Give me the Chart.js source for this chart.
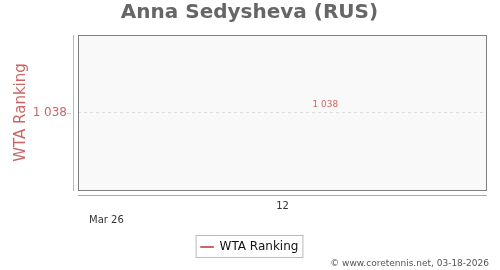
<!DOCTYPE html>
<html>
<head>
<meta charset="utf-8">
<script src="https://cdn.jsdelivr.net/npm/chart.js@4"></script>
<style>
  html, body { margin: 0; padding: 0; background: #fff; }
  #wrap { width: 500px; height: 270px; }
</style>
</head>
<body>
<div id="wrap"><canvas id="Chart"></canvas></div>
<script>
const weeks = [12.2];
const ranking = [1038];
const xTicks = [12];
const yTicks = [1038];
const monthLabel = "Mar 26";
const footer = "\u00A9 www.coretennis.net, 03-18-2026";

const red = "#cc6666";
const fmt = v => String(v).replace(/\B(?=(\d{3})+(?!\d))/g, " ");

// plot box, offset axis lines, value labels, legend frame, footer
const decor = {
  id: "decor",
  beforeDraw(chart) {
    const a = chart.chartArea, c = chart.ctx;
    c.save();
    c.fillStyle = "#f9f9f9";
    c.fillRect(a.left, a.top, a.right - a.left, a.bottom - a.top);
    c.restore();
  },
  afterDraw(chart) {
    const a = chart.chartArea, c = chart.ctx;
    c.save();
    c.strokeStyle = "#808080";
    c.lineWidth = 1;
    c.strokeRect(a.left + 0.5, a.top + 0.5, a.right - a.left - 1, a.bottom - a.top);
    // y axis line
    c.strokeStyle = "#e2a8a8";
    c.beginPath();
    c.moveTo(a.left - 4.5, a.top);
    c.lineTo(a.left - 4.5, a.bottom + 1);
    c.stroke();
    const ys = chart.scales.y;
    ys.ticks.forEach((t, i) => {
      const y = Math.round(ys.getPixelForTick(i)) + 0.5;
      c.strokeStyle = "#ccc";
      c.beginPath();
      c.moveTo(a.left - 11, y);
      c.lineTo(a.left - 7, y);
      c.stroke();
    });
    // x axis line
    c.strokeStyle = "#aaa";
    c.beginPath();
    c.moveTo(a.left, a.bottom + 5.5);
    c.lineTo(a.right, a.bottom + 5.5);
    c.stroke();
    // month label
    c.fillStyle = "#333";
    c.font = "10px 'DejaVu Sans'";
    c.textAlign = "left";
    c.textBaseline = "middle";
    c.fillText(monthLabel, a.left + 11, a.bottom + 30);
    // value labels
    const meta = chart.getDatasetMeta(0);
    c.fillStyle = red;
    c.font = "9px 'DejaVu Sans'";
    c.textAlign = "center";
    meta.data.forEach((p, i) => {
      c.fillText(fmt(chart.data.datasets[0].data[i].y), p.x + 2, p.y - 8);
    });
    // legend frame
    const hb = chart.legend.legendHitBoxes[0];
    if (hb) {
      c.strokeStyle = "#bbb";
      c.strokeRect(hb.left - 4.5, hb.top - 5.5, hb.width + 9, hb.height + 10);
    }
    // footer
    c.fillStyle = "#555";
    c.font = "9px 'DejaVu Sans'";
    c.textAlign = "right";
    c.fillText(footer, 489, 264);
    c.restore();
  }
};

new Chart("Chart", {
  type: "line",
  data: {
    datasets: [{
      label: "WTA Ranking",
      data: weeks.map((w, i) => ({x: w, y: ranking[i]})),
      borderColor: red,
      backgroundColor: red,
      borderWidth: 1,
      pointRadius: 0,
      fill: false
    }]
  },
  options: {
    responsive: true,
    maintainAspectRatio: false,
    animation: false,
    layout: {padding: {left: 12, right: 13, top: 0, bottom: 7}},
    plugins: {
      title: {
        display: true,
        text: "Anna Sedysheva (RUS)",
        color: "#666",
        font: {family: "DejaVu Sans", size: 20, weight: "bold"},
        padding: {top: 1, bottom: 10}
      },
      legend: {
        position: "bottom",
        labels: {
          color: "#111",
          font: {family: "DejaVu Sans", size: 12},
          boxWidth: 13,
          boxHeight: 1,
          padding: 6
        }
      },
      tooltip: {enabled: false}
    },
    scales: {
      x: {
        type: "linear",
        min: 11,
        max: 13,
        afterBuildTicks: s => { s.ticks = xTicks.map(v => ({value: v})); },
        afterFit: s => { s.height = 45; },
        grid: {display: false, drawTicks: false},
        border: {display: false},
        ticks: {color: "#333", font: {family: "DejaVu Sans", size: 10}, padding: 10, maxRotation: 0}
      },
      y: {
        min: 1037,
        max: 1039,
        reverse: true,
        afterBuildTicks: s => { s.ticks = yTicks.map(v => ({value: v})); },
        afterFit: s => { s.width = 66; },
        grid: {color: "#dddddd", drawTicks: false},
        border: {display: false, dash: [3, 3]},
        ticks: {color: red, font: {family: "DejaVu Sans", size: 12}, padding: 11, callback: v => fmt(v)},
        title: {
          display: true,
          text: "WTA Ranking",
          color: red,
          font: {family: "DejaVu Sans", size: 15},
          padding: {top: 0, bottom: 0}
        }
      }
    }
  },
  plugins: [decor]
});
</script>
</body>
</html>
